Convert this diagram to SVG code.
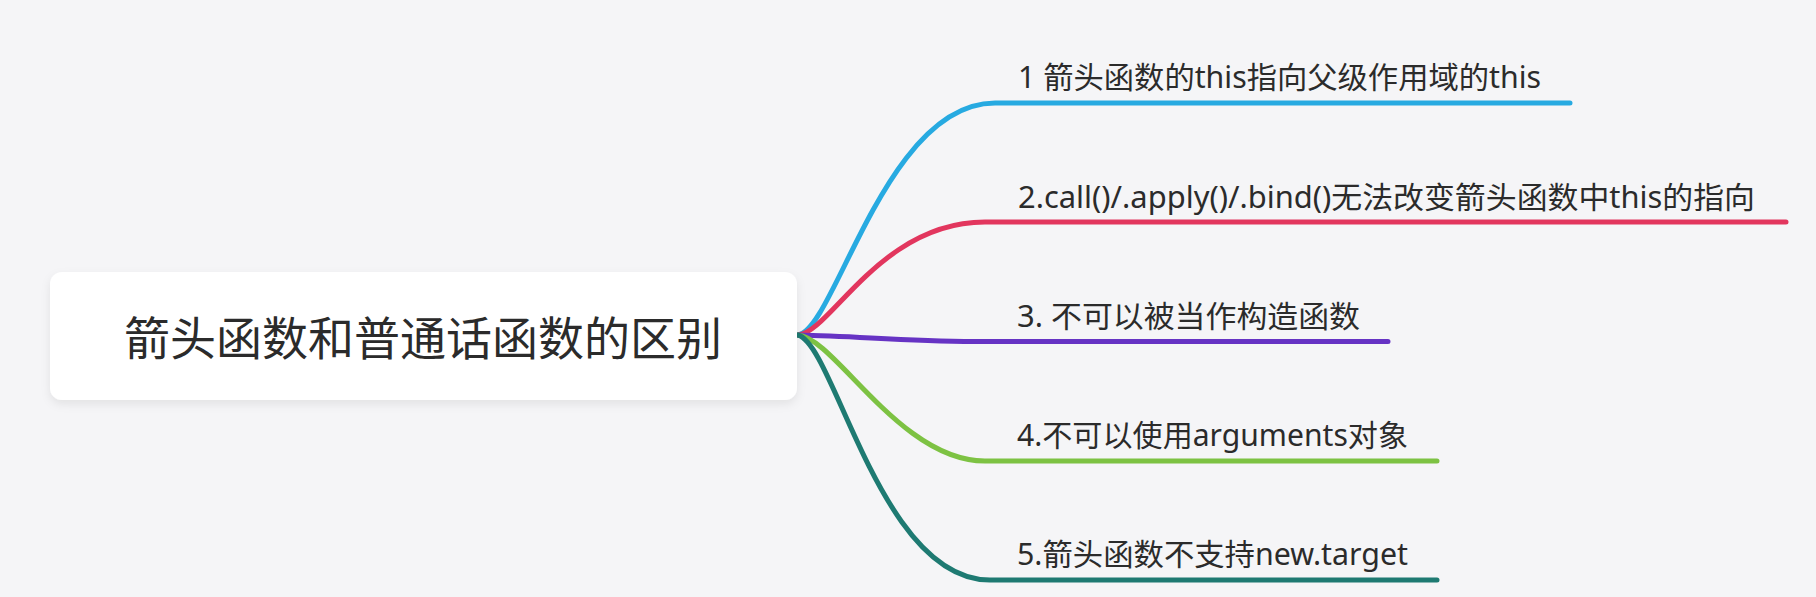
<svg xmlns="http://www.w3.org/2000/svg" width="1816" height="597" viewBox="0 0 1816 597">
<defs>
<filter id="sh" x="-10%" y="-30%" width="120%" height="170%">
<feDropShadow dx="0" dy="4" stdDeviation="5" flood-color="#000" flood-opacity="0.08"/>
</filter>
<style>
.br{fill:none;stroke-width:5;stroke-linecap:round}
.lbl{font-family:"Noto Sans","Noto Sans CJK SC",sans-serif;font-size:30px;fill:#2b2b2b}
.ttl{font-family:"Noto Sans CJK SC","Noto Sans",sans-serif;font-size:46px;fill:#2b2b2b}
</style>
</defs>
<rect width="1816" height="597" fill="#f5f5f7"/>
<g id="connectors">
<path class="br" stroke="#27aae1" d="M798,335 C835,330 885,103 995,103 L1570,103"/>
<path class="br" stroke="#e2365e" d="M798,335 C830,333 880,222 985,222 L1786,222"/>
<path class="br" stroke="#6633c4" d="M798,335 C860,336 900,341.5 975,341.5 L1388,341.5"/>
<path class="br" stroke="#7dc243" d="M798,335 C835,338 900,461 985,461 L1437,461"/>
<path class="br" stroke="#1e7a72" d="M798,335 C835,345 880,580 990,580 L1437,580"/>
</g>
<g id="root">
<rect x="50" y="272" width="747" height="128" rx="12" fill="#ffffff" filter="url(#sh)"/>
<text class="ttl" x="423" y="355" text-anchor="middle" textLength="598" lengthAdjust="spacingAndGlyphs">箭头函数和普通话函数的区别</text>
</g>
<g id="n1"><text class="lbl" x="1018" y="88" textLength="523" lengthAdjust="spacingAndGlyphs">1 箭头函数的this指向父级作用域的this</text></g>
<g id="n2"><text class="lbl" x="1018" y="208" textLength="737" lengthAdjust="spacingAndGlyphs">2.call()/.apply()/.bind()无法改变箭头函数中this的指向</text></g>
<g id="n3"><text class="lbl" x="1017" y="327" textLength="343" lengthAdjust="spacingAndGlyphs">3. 不可以被当作构造函数</text></g>
<g id="n4"><text class="lbl" x="1017" y="446" textLength="391" lengthAdjust="spacingAndGlyphs">4.不可以使用arguments对象</text></g>
<g id="n5"><text class="lbl" x="1017" y="565" textLength="391" lengthAdjust="spacingAndGlyphs">5.箭头函数不支持new.target</text></g>
</svg>
